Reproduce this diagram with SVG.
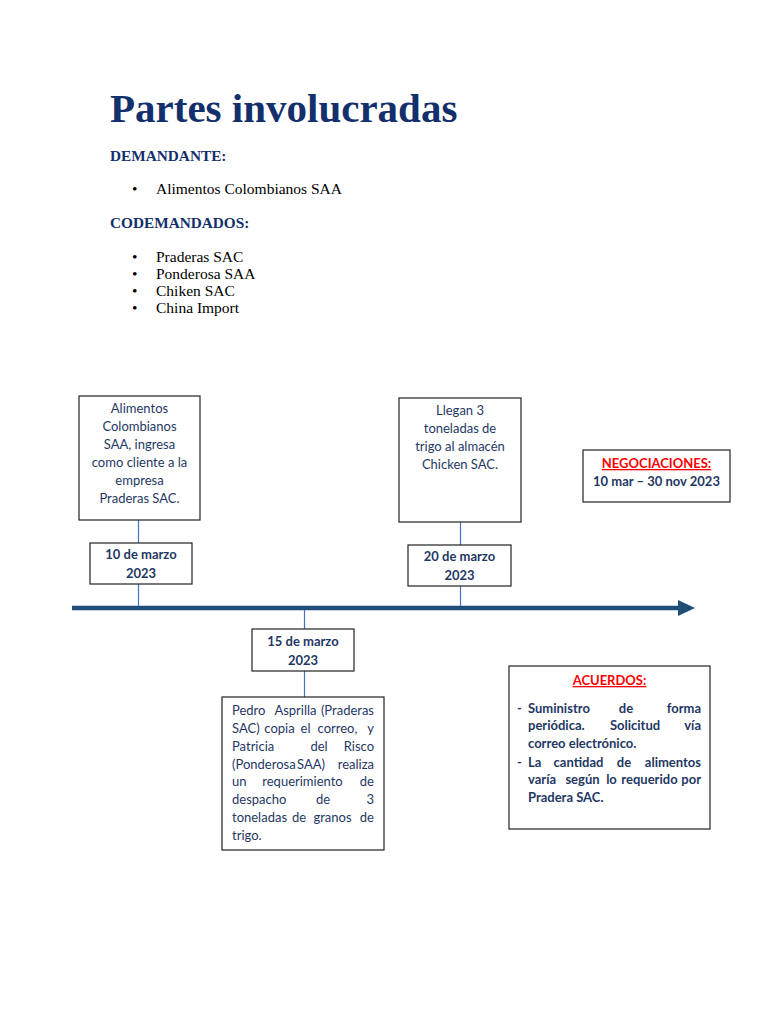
<svg xmlns="http://www.w3.org/2000/svg" width="768" height="1024" viewBox="0 0 768 1024">
<style>
.h{font-family:"Liberation Serif","Times New Roman",serif;font-weight:bold;fill:#13306d}
.li{font-family:"Liberation Serif","Times New Roman",serif;font-size:15.5px;fill:#000}
.box{fill:#fff;stroke:#222;stroke-width:1.2}
.t{font-family:Lato,"Liberation Sans",sans-serif;font-size:13px;fill:#1f3864}
.b{font-family:Lato,"Liberation Sans",sans-serif;font-size:13px;font-weight:bold;fill:#1f3864}
.red{font-family:Lato,"Liberation Sans",sans-serif;font-size:13px;font-weight:bold;fill:#ff0000;text-decoration:underline}
.c{text-anchor:middle}
.e{text-anchor:end}
.tick{stroke:#4472c4;stroke-width:1.2}
</style>
<rect width="768" height="1024" fill="#fff"/>
<g id="header">
<text class="h" x="110" y="122" font-size="41">Partes involucradas</text>
<text class="h" x="110" y="161" font-size="15.3">DEMANDANTE:</text>
<text class="li" x="132" y="194">•</text>
<text class="li" x="156" y="194">Alimentos Colombianos SAA</text>
<text class="h" x="110" y="228" font-size="15.3">CODEMANDADOS:</text>
<text class="li" x="132" y="262">•</text><text class="li" x="156" y="262">Praderas SAC</text>
<text class="li" x="132" y="279">•</text><text class="li" x="156" y="279">Ponderosa SAA</text>
<text class="li" x="132" y="296">•</text><text class="li" x="156" y="296">Chiken SAC</text>
<text class="li" x="132" y="313">•</text><text class="li" x="156" y="313">China Import</text>
</g>
<g id="connectors">
<line x1="72" y1="608" x2="680" y2="608" stroke="#1f4e79" stroke-width="4.5"/>
<polygon points="678,600 695,608 678,616" fill="#1f4e79"/>
<line class="tick" x1="138.5" y1="520" x2="138.5" y2="543"/>
<line class="tick" x1="138.5" y1="584" x2="138.5" y2="606"/>
<line class="tick" x1="460.5" y1="522" x2="460.5" y2="545"/>
<line class="tick" x1="460.5" y1="586" x2="460.5" y2="606"/>
<line class="tick" x1="304.5" y1="610" x2="304.5" y2="629"/>
<line class="tick" x1="304.5" y1="671" x2="304.5" y2="697"/>
</g>
<g id="event1">
<rect class="box" x="79" y="396" width="121" height="124"/>
<text class="t c" x="139.5" y="413">Alimentos</text>
<text class="t c" x="139.5" y="431">Colombianos</text>
<text class="t c" x="139.5" y="449">SAA, ingresa</text>
<text class="t c" x="139.5" y="467">como cliente a la</text>
<text class="t c" x="139.5" y="485">empresa</text>
<text class="t c" x="139.5" y="503">Praderas SAC.</text>
</g>
<g id="date1">
<rect class="box" x="90" y="543" width="102" height="41"/>
<text class="b c" x="141" y="559">10 de marzo</text>
<text class="b c" x="141" y="578">2023</text>
</g>
<g id="event3">
<rect class="box" x="399" y="398" width="122" height="124"/>
<text class="t c" x="460" y="415">Llegan 3</text>
<text class="t c" x="460" y="433">toneladas de</text>
<text class="t c" x="460" y="451">trigo al almacén</text>
<text class="t c" x="460" y="469">Chicken SAC.</text>
</g>
<g id="date3">
<rect class="box" x="408" y="545" width="103" height="41"/>
<text class="b c" x="459.5" y="561">20 de marzo</text>
<text class="b c" x="459.5" y="580">2023</text>
</g>
<g id="negociaciones">
<rect class="box" x="583" y="450" width="147" height="52"/>
<text class="red c" x="656.5" y="468">NEGOCIACIONES:</text>
<text class="b c" x="656.5" y="486">10 mar – 30 nov 2023</text>
</g>
<g id="date2">
<rect class="box" x="252" y="629" width="102" height="42"/>
<text class="b c" x="303" y="646">15 de marzo</text>
<text class="b c" x="303" y="665">2023</text>
</g>
<g id="event2">
<rect class="box" x="222" y="697" width="162" height="153"/>
<text class="t" x="232" y="715">Pedro</text><text class="t c" x="295.5" y="715">Asprilla</text><text class="t e" x="374" y="715">(Praderas</text>
<text class="t" x="232" y="733">SAC)</text><text class="t c" x="279.5" y="733">copia</text><text class="t c" x="305.5" y="733">el</text><text class="t c" x="337.5" y="733">correo,</text><text class="t e" x="374" y="733">y</text>
<text class="t" x="232" y="751">Patricia</text><text class="t c" x="319" y="751">del</text><text class="t e" x="374" y="751">Risco</text>
<text class="t" x="232" y="769">(Ponderosa</text><text class="t c" x="311" y="769">SAA)</text><text class="t e" x="374" y="769">realiza</text>
<text class="t" x="232" y="786">un</text><text class="t c" x="302.5" y="786">requerimiento</text><text class="t e" x="374" y="786">de</text>
<text class="t" x="232" y="804">despacho</text><text class="t c" x="323" y="804">de</text><text class="t e" x="374" y="804">3</text>
<text class="t" x="232" y="822">toneladas</text><text class="t c" x="299" y="822">de</text><text class="t c" x="332.5" y="822">granos</text><text class="t e" x="374" y="822">de</text>
<text class="t" x="232" y="840">trigo.</text>
</g>
<g id="acuerdos">
<rect class="box" x="509" y="666" width="201" height="163"/>
<text class="red c" x="609.5" y="685">ACUERDOS:</text>
<text class="b" x="517" y="713">-</text>
<text class="b" x="528" y="713">Suministro</text><text class="b c" x="626" y="713">de</text><text class="b e" x="701" y="713">forma</text>
<text class="b" x="528" y="730">periódica.</text><text class="b c" x="635" y="730">Solicitud</text><text class="b e" x="701" y="730">vía</text>
<text class="b" x="528" y="748">correo electrónico.</text>
<text class="b" x="517" y="767">-</text>
<text class="b" x="528" y="767">La</text><text class="b c" x="578.5" y="767">cantidad</text><text class="b c" x="624" y="767">de</text><text class="b e" x="701" y="767">alimentos</text>
<text class="b" x="528" y="784">varía</text><text class="b c" x="582.5" y="784">según</text><text class="b c" x="611.5" y="784">lo</text><text class="b c" x="649.5" y="784">requerido</text><text class="b e" x="701" y="784">por</text>
<text class="b" x="528" y="802">Pradera SAC.</text>
</g>
</svg>
